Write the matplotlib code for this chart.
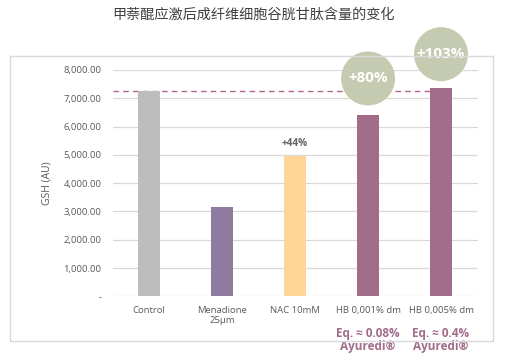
import matplotlib
matplotlib.use("Agg")
import matplotlib.pyplot as plt
from matplotlib.patches import Ellipse, Rectangle
from matplotlib.ticker import FuncFormatter

plt.rcParams["font.family"] = ["Open Sans", "DejaVu Sans"]

TITLE = "甲萘醌应激后成纤维细胞谷胱甘肽含量的变化"
categories = ["Control", "Menadione\n25µm", "NAC 10mM", "HB 0,001% dm", "HB 0,005% dm"]
gsh_values = [7260, 3150, 4970, 6420, 7370]
bar_colors = ["#bdbdbd", "#8f7b9f", "#fed594", "#a26c8b", "#a26c8b"]
control_level = gsh_values[0]
nac_label = "+44%"
circle_labels = {3: "+80%", 4: "+103%"}
equivalents = {3: "Eq. ≈ 0.08%\nAyuredi®", 4: "Eq. ≈ 0.4%\nAyuredi®"}

W, H = 506, 360
figure = plt.figure(figsize=(W / 100, H / 100), dpi=100)

# outer light frame
figure.patches.append(
    Rectangle((10 / W, 1 - 341 / H), (493 - 10) / W, (341 - 56) / H,
              transform=figure.transFigure, fill=False,
              edgecolor="#d9d9d9", linewidth=1.0, zorder=0)
)

axis = figure.add_axes([112.7 / W, 1 - 296.3 / H, (477.5 - 112.7) / W, (296.3 - 70) / H])
positions = range(len(categories))
axis.bar(positions, gsh_values, width=0.31, color=bar_colors, zorder=3)
axis.set_xlim(-0.5, len(categories) - 0.5)
axis.set_ylim(0, 8000)
axis.set_yticks(range(0, 8001, 1000))
axis.yaxis.set_major_formatter(
    FuncFormatter(lambda v, _: "-" if v == 0 else f"{v:,.2f}")
)
axis.grid(axis="y", color="#d9d9d9", linewidth=0.9, zorder=0)
for side in ["left", "right", "top", "bottom"]:
    axis.spines[side].set_visible(False)
axis.tick_params(axis="y", length=0, pad=8, labelsize=6.8, labelcolor="#595959")
axis.tick_params(axis="x", length=0, pad=7, labelsize=6.8, labelcolor="#595959")
axis.set_xticks(list(positions))
axis.set_xticklabels(categories)
axis.set_ylabel("GSH (AU)", fontsize=7.5, color="#595959", labelpad=8)

axis.plot([-0.5, 4], [control_level, control_level], color="#b0648f",
          linestyle=(0, (4, 3)), linewidth=1.0, zorder=2)

axis.text(2, gsh_values[2] + 250, nac_label, ha="center", va="bottom",
          fontsize=7.3, fontweight="bold", color="#666666")

# circle badges, radius ~27 px
radius_x = 27 / ((477.5 - 112.7) / 5)
radius_y = 27 / ((296.3 - 70) / 8000)
centers = {3: 7700, 4: 8560}
for index, label in circle_labels.items():
    axis.add_patch(Ellipse((index, centers[index]), 2 * radius_x, 2 * radius_y,
                           facecolor="#c5cbb0", edgecolor="none",
                           clip_on=False, zorder=5))
    axis.text(index, centers[index], label, ha="center", va="center",
              fontsize=11, fontweight="bold", color="white", zorder=6, clip_on=False)

for index, label in equivalents.items():
    axis.text(index, -1080, label, ha="center", va="top", fontsize=8.5,
              fontweight="bold", color="#a26c8b", linespacing=1.05,
              clip_on=False)

figure.text(0.5, 1 - 15 / H, TITLE, ha="center", va="center", fontsize=10.2,
            color="#404040", family=["Noto Sans CJK SC", "DejaVu Sans"])

figure.savefig("out.png", dpi=100)
